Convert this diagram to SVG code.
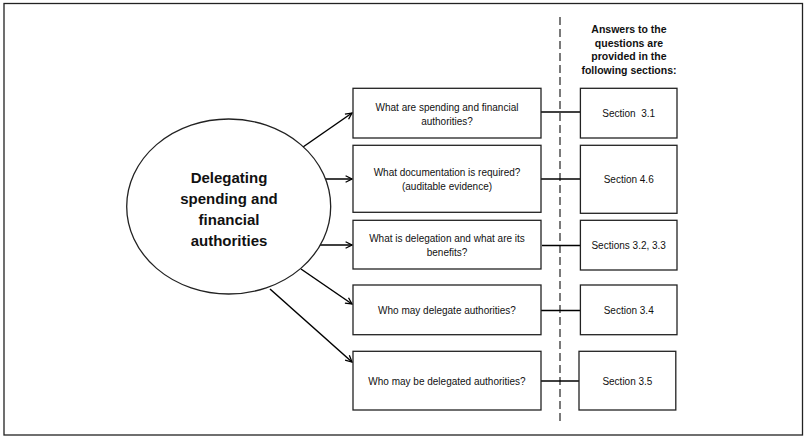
<svg xmlns="http://www.w3.org/2000/svg" width="807" height="440" viewBox="0 0 807 440">
<defs>
<marker id="arr" viewBox="0 0 10 10" refX="9" refY="5" markerWidth="8" markerHeight="8" markerUnits="userSpaceOnUse" orient="auto">
<polyline points="1,1 9,5 1,9" fill="none" stroke="#000" stroke-width="1.6"/>
</marker>
</defs>
<style>
.box{fill:#fff;stroke:#222;stroke-width:1.3}
.t{font-family:"Liberation Sans",Arial,sans-serif;font-size:10px;fill:#111;text-anchor:middle;white-space:pre}
.h{font-family:"Liberation Sans",Arial,sans-serif;font-size:10.5px;font-weight:bold;fill:#111;text-anchor:middle}
.c{font-family:"Liberation Sans",Arial,sans-serif;font-size:15px;font-weight:bold;fill:#111;text-anchor:middle}
.arrow{stroke:#000;stroke-width:1.5;fill:none;marker-end:url(#arr)}
.link{stroke:#000;stroke-width:1.5;fill:none}
</style>
<rect x="0" y="0" width="807" height="440" fill="#fff"/>
<rect x="4" y="3.5" width="798.5" height="431.5" fill="none" stroke="#222" stroke-width="1.3"/>
<line x1="560" y1="17" x2="560" y2="423" stroke="#222" stroke-width="1.2" stroke-dasharray="8,4"/>
<g id="header">
<text class="h" x="629" y="33">Answers to the</text>
<text class="h" x="629" y="46.5">questions are</text>
<text class="h" x="629" y="60">provided in the</text>
<text class="h" x="629" y="74">following sections:</text>
</g>
<g id="connectors">
<line class="arrow" x1="303" y1="147" x2="352" y2="113"/>
<line class="arrow" x1="319" y1="179" x2="352" y2="179"/>
<line class="arrow" x1="320" y1="245" x2="352" y2="245"/>
<line class="arrow" x1="301" y1="269" x2="352" y2="304"/>
<line class="arrow" x1="270" y1="289" x2="352" y2="362"/>
<line class="link" x1="541" y1="112" x2="580" y2="112"/>
<line class="link" x1="541" y1="179" x2="580" y2="179"/>
<line class="link" x1="542" y1="245.5" x2="580" y2="245.5"/>
<line class="link" x1="541" y1="310.5" x2="580" y2="310.5"/>
<line class="link" x1="541" y1="381" x2="579" y2="381"/>
</g>
<g id="center">
<ellipse cx="228.7" cy="206.5" rx="102" ry="87.5" fill="#fff" stroke="#222" stroke-width="1.3"/>
<text class="c" x="229" y="182.5">Delegating</text>
<text class="c" x="229" y="203.5">spending and</text>
<text class="c" x="229" y="224.5">financial</text>
<text class="c" x="229" y="245.5">authorities</text>
</g>
<g id="q1">
<rect class="box" x="353" y="88.3" width="188" height="49.7"/>
<text class="t" x="447" y="110.5">What are spending and financial</text>
<text class="t" x="447" y="124.5">authorities?</text>
</g>
<g id="q2">
<rect class="box" x="353" y="145.3" width="188" height="67"/>
<text class="t" x="447" y="176">What documentation is required?</text>
<text class="t" x="447" y="190">(auditable evidence)</text>
</g>
<g id="q3">
<rect class="box" x="353" y="220.3" width="188" height="48.7"/>
<text class="t" x="447" y="242">What is delegation and what are its</text>
<text class="t" x="447" y="256">benefits?</text>
</g>
<g id="q4">
<rect class="box" x="353" y="285" width="188" height="49.7"/>
<text class="t" x="447" y="314">Who may delegate authorities?</text>
</g>
<g id="q5">
<rect class="box" x="353" y="351.3" width="188" height="58.7"/>
<text class="t" x="447" y="385">Who may be delegated authorities?</text>
</g>
<g id="s1">
<rect class="box" x="580.4" y="88.3" width="96.6" height="49.7"/>
<text class="t" x="628.7" y="117">Section  3.1</text>
</g>
<g id="s2">
<rect class="box" x="580.4" y="145.3" width="96.6" height="68"/>
<text class="t" x="628.7" y="183">Section 4.6</text>
</g>
<g id="s3">
<rect class="box" x="580.4" y="220.3" width="96.6" height="49.7"/>
<text class="t" x="628.7" y="249">Sections 3.2, 3.3</text>
</g>
<g id="s4">
<rect class="box" x="580.4" y="285" width="96.6" height="49.7"/>
<text class="t" x="628.7" y="314">Section 3.4</text>
</g>
<g id="s5">
<rect class="box" x="579" y="351.3" width="96.8" height="58.7"/>
<text class="t" x="627.4" y="385">Section 3.5</text>
</g>
</svg>
